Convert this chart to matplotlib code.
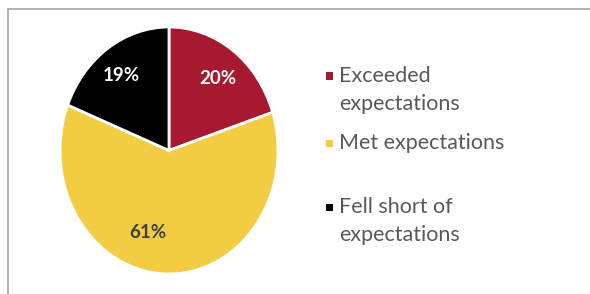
import matplotlib
matplotlib.use("Agg")
import matplotlib.pyplot as plt
from matplotlib.patches import Rectangle

categories = ["Exceeded\nexpectations", "Met expectations", "Fell short of\nexpectations"]
values = [20, 61, 19]
colors = ["#A6192E", "#F2CD44", "#000000"]
label_colors = ["white", "#404040", "white"]

plt.rcParams['font.family'] = ['Lato', 'DejaVu Sans']

fig = plt.figure(figsize=(5.9, 2.94), dpi=100)

# border
fig.add_artist(Rectangle((7.5/590, -0.1), 1.2, (294-9.5)/294 + 0.1, transform=fig.transFigure,
                         fill=False, edgecolor="#A6A6A6", linewidth=1.2))

ax = fig.add_axes([60/590, (294-274)/294, 218/590, 247/294])
wedges, texts, autotexts = ax.pie(values, colors=colors, startangle=90, counterclock=False,
                                  autopct=lambda p: f"{p:.0f}%", pctdistance=0.74,
                                  wedgeprops=dict(edgecolor="white", linewidth=2))
ax.set_aspect('auto')
ax.set_xlim(-1, 1)
ax.set_ylim(-1, 1)
for t, c in zip(autotexts, label_colors):
    t.set_color(c)
    t.set_fontweight("bold")
    t.set_fontsize(13.5)
autotexts[1].set_position((-0.19, -0.66))
autotexts[0].set_position((0.45, 0.58))
autotexts[2].set_position((-0.44, 0.61))

# legend
ys = [76, 143, 207]
for lab, col, y in zip(categories, colors, ys):
    fig.add_artist(Rectangle((326/590, (294 - y - 3.5)/294), 7/590, 7/294,
                             transform=fig.transFigure, facecolor=col, edgecolor="none"))
    fig.text(339/590, (294 - y + 10)/294, lab, color="#595959", fontsize=15.5,
             va="top", ha="left", linespacing=1.5,
             transform=fig.transFigure)

fig.savefig("out.png", dpi=100)
